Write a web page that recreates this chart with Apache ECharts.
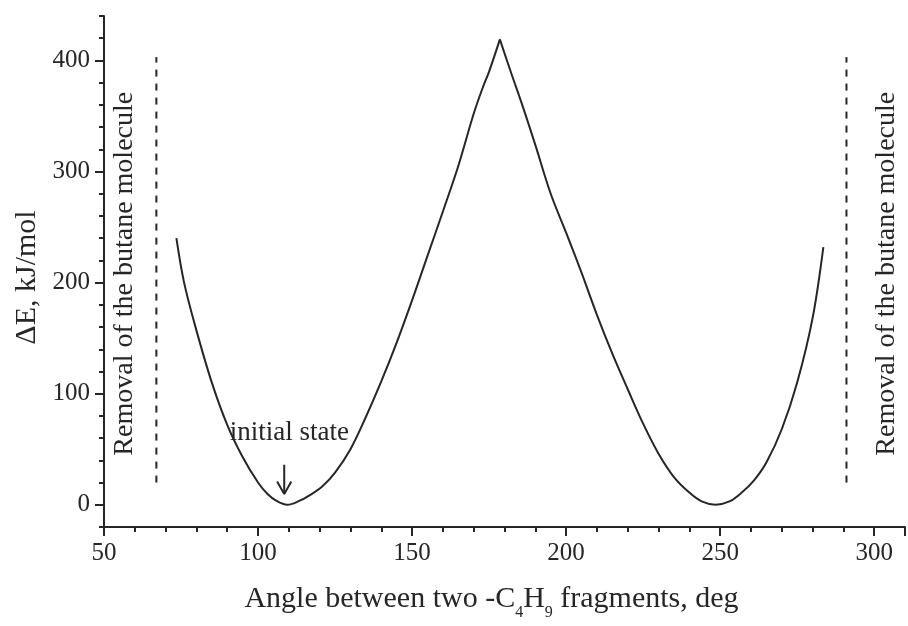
<!DOCTYPE html>
<html>
<head>
<meta charset="utf-8">
<script src="https://cdn.jsdelivr.net/npm/echarts@6/dist/echarts.min.js"></script>
<style>
  html, body { margin: 0; padding: 0; background: #fff; }
  #chart { width: 908px; height: 626px; }
</style>
</head>
<body>
<div id="chart"></div>
<script>
// energy profile (peak at 178.5 splits the two branches)
const angle = [73.5, 76, 80, 85, 90, 95, 100, 103, 106, 109.5, 113, 117, 121, 125, 130, 135, 140, 145, 150, 155, 160, 165, 170, 173, 175, 178.5,
  182, 186, 190, 195, 200, 205, 210, 215, 220, 225, 230, 235, 240, 244, 248.5, 253, 257, 261, 265, 270, 275, 280, 283.5];
const energy = [240, 200, 157, 110, 72, 43, 20, 10, 3.5, 0, 3, 9, 17, 29, 50, 79, 111, 146, 184, 224, 264, 305, 352, 376, 390, 419,
  390, 358, 324, 280, 245, 209, 171, 136, 104, 73, 46, 25, 11, 3, 0, 3, 11, 22, 38, 68, 110, 168, 232];
const peakIndex = 25;

// dashed "removal" limits
const removalAngle = [67, 291];
const removalRange = [20, 403];

const xTicks = [50, 100, 150, 200, 250, 300];
const yTicks = [0, 100, 200, 300, 400];

const ink = '#262626';
const serif = '"Liberation Serif", "DejaVu Serif", serif';

function curveData(from, to) {
  return angle.slice(from, to).map((a, i) => [a, energy[from + i]]);
}

function curveSeries(data) {
  return {
    type: 'line',
    data: data,
    symbol: 'none',
    smooth: 0.35,
    silent: true,
    lineStyle: { color: ink, width: 2 }
  };
}

function removalSeries(x) {
  return {
    type: 'line',
    data: [[x, removalRange[0]], [x, removalRange[1]]],
    symbol: 'none',
    silent: true,
    lineStyle: { color: ink, width: 2, type: [7, 7] }
  };
}

function textSeries(pos, text, rotate, size) {
  return {
    type: 'scatter',
    data: [pos],
    symbolSize: 0,
    silent: true,
    itemStyle: { opacity: 1 },
    label: {
      show: true,
      position: 'inside',
      rotate: rotate,
      formatter: text,
      color: ink,
      opacity: 1,
      fontFamily: serif,
      fontSize: size
    }
  };
}

function arrowSeries(points) {
  return {
    type: 'line',
    data: points,
    symbol: 'none',
    silent: true,
    lineStyle: { color: ink, width: 2 }
  };
}

function initOpt() {
  return {
    animation: false,
    grid: { left: 104, top: 16, right: 0, bottom: 85 },
    xAxis: {
      type: 'value',
      min: 50,
      max: 310,
      interval: 50,
      name: 'Angle between two -C{sub|4}H{sub|9} fragments, deg',
      nameLocation: 'middle',
      nameGap: 50,
      nameTextStyle: {
        color: ink,
        fontFamily: serif,
        fontSize: 30,
        padding: [0, 26, 0, 0],
        rich: {
          sub: { fontSize: 16, fontFamily: serif, color: ink, verticalAlign: 'top', padding: [28, 0, 0, 0] }
        }
      },
      axisLine: { show: true, onZero: false, lineStyle: { color: ink, width: 2 } },
      axisTick: { show: true, inside: false, length: 9, lineStyle: { color: ink, width: 2 } },
      minorTick: { show: true, splitNumber: 5, length: 5, lineStyle: { color: ink, width: 2 } },
      splitLine: { show: false },
      axisLabel: {
        color: ink,
        fontFamily: serif,
        fontSize: 25,
        margin: 14,
        formatter: v => xTicks.includes(v) ? String(v) : ''
      }
    },
    yAxis: [{
      type: 'value',
      min: -20,
      max: 440,
      interval: 20,
      name: 'ΔE, kJ/mol',
      nameLocation: 'middle',
      nameGap: 62,
      nameRotate: 90,
      nameTextStyle: { color: ink, fontFamily: serif, fontSize: 30, padding: [0, 12, 0, 0] },
      axisLine: { show: true, onZero: false, lineStyle: { color: ink, width: 2 } },
      axisTick: { show: true, length: 5, lineStyle: { color: ink, width: 2 } },
      splitLine: { show: false },
      axisLabel: { show: false }
    }, {
      type: 'value',
      position: 'left',
      min: -20,
      max: 440,
      interval: 20,
      axisLine: { show: false },
      axisTick: { show: true, length: 9, customValues: yTicks, lineStyle: { color: ink, width: 2 } },
      splitLine: { show: false },
      axisLabel: {
        customValues: yTicks,
        color: ink,
        fontFamily: serif,
        fontSize: 25,
        margin: 14
      }
    }],
    series: [
      curveSeries(curveData(0, peakIndex + 1)),
      curveSeries(curveData(peakIndex, angle.length)),
      removalSeries(removalAngle[0]),
      removalSeries(removalAngle[1]),
      textSeries([56.8, 208], 'Removal of the butane molecule', 90, 28),
      textSeries([304, 208], 'Removal of the butane molecule', 90, 28),
      textSeries([110.2, 65], 'initial state', 0, 27),
      arrowSeries([[108.5, 36], [108.5, 10]]),
      arrowSeries([[106.2, 21], [108.5, 9.6], [110.8, 21]])
    ]
  };
}

const myChart = echarts.init(document.getElementById('chart'));
myChart.setOption(initOpt());
</script>
</body>
</html>
